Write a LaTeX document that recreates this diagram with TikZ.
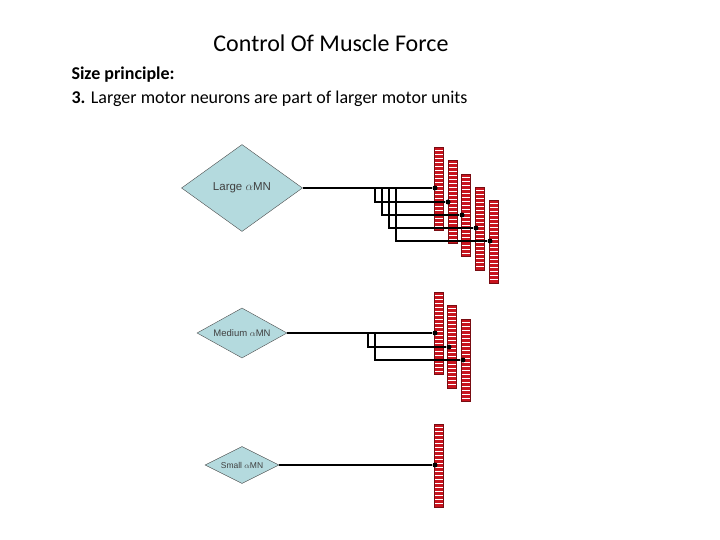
\documentclass[tikz,border=0pt]{standalone}
\usepackage{fontspec}
\setmainfont{Carlito}
\newfontfamily\arialfont{Liberation Sans}
\usetikzlibrary{shapes.geometric}
\definecolor{mnblue}{RGB}{180,218,222}
\definecolor{fibred}{RGB}{200,20,30}
\tikzset{
  mn/.style={shape=diamond, draw=black!70, fill=mnblue, inner sep=0pt},
  mntext/.style={text=black!75, font=\arialfont\fontsize{#1}{#1}\selectfont},
  axon/.style={line width=1.3pt},
  syn/.style={circle, fill=black, inner sep=0pt, minimum size=5pt},
}
% muscle fibre: x, top, bottom (px)
\newcommand{\fibre}[3]{%
  \fill[white] (#1-4.5,#2) rectangle (#1+4.5,#3);
  \foreach \yy in {#2,...,#3} {
    \pgfmathparse{mod(\yy-#2,4)<2 ? 1 : 0}
    \ifnum\pgfmathresult=1
      \fill[fibred] (#1-4.5,\yy) rectangle (#1+4.5,\yy+2);
    \fi
  }
  \draw[fibred!60!black, line width=0.6pt] (#1-4.5,#2) rectangle (#1+4.5,#3);
}
\begin{document}
\begin{tikzpicture}[x=1pt,y=-1pt]
  \useasboundingbox (0,0) rectangle (720,540);
  \node[font=\fontsize{24}{28}\selectfont] (title) at (331,43) {Control Of Muscle Force};
  \node[anchor=west, font=\fontsize{18}{24}\selectfont, align=left] (sub) at (68,87)
    {\textbf{Size principle:}\\\textbf{3.} Larger motor neurons are part of larger motor units};

  % large motor unit
  \fibre{439}{147}{230}
  \fibre{453}{160}{243}
  \fibre{466}{174}{256}
  \fibre{480}{187}{270}
  \fibre{494}{200}{283}
  \node[mn, minimum width=121pt, minimum height=87pt,
    label={[mntext=11.5]center:Large $\alpha$MN}] (large) at (242,188) {};
  \node[syn] (l1) at (435,188) {};
  \node[syn] (l2) at (448,202) {};
  \node[syn] (l3) at (462,215) {};
  \node[syn] (l4) at (476,228) {};
  \node[syn] (l5) at (490,241) {};
  \draw[axon] (large.east) -- (l1);
  \draw[axon] (375,188) |- (l2);
  \draw[axon] (382,188) |- (l3);
  \draw[axon] (389,188) |- (l4);
  \draw[axon] (396,188) |- (l5);

  % medium motor unit
  \fibre{439}{292}{374}
  \fibre{452}{305}{388}
  \fibre{466}{319}{401}
  \node[mn, minimum width=90pt, minimum height=50pt,
    label={[mntext=9.5]center:Medium $\alpha$MN}] (medium) at (242,333) {};
  \node[syn] (m1) at (435,333) {};
  \node[syn] (m2) at (449,347) {};
  \node[syn] (m3) at (463,360) {};
  \draw[axon] (medium.east) -- (m1);
  \draw[axon] (368,333) |- (m2);
  \draw[axon] (375,333) |- (m3);

  % small motor unit
  \fibre{439}{424}{507}
  \node[mn, minimum width=74pt, minimum height=37pt,
    label={[mntext=8.5]center:Small $\alpha$MN}] (small) at (242,465) {};
  \node[syn] (s1) at (435,465) {};
  \draw[axon] (small.east) -- (s1);
\end{tikzpicture}
\end{document}
